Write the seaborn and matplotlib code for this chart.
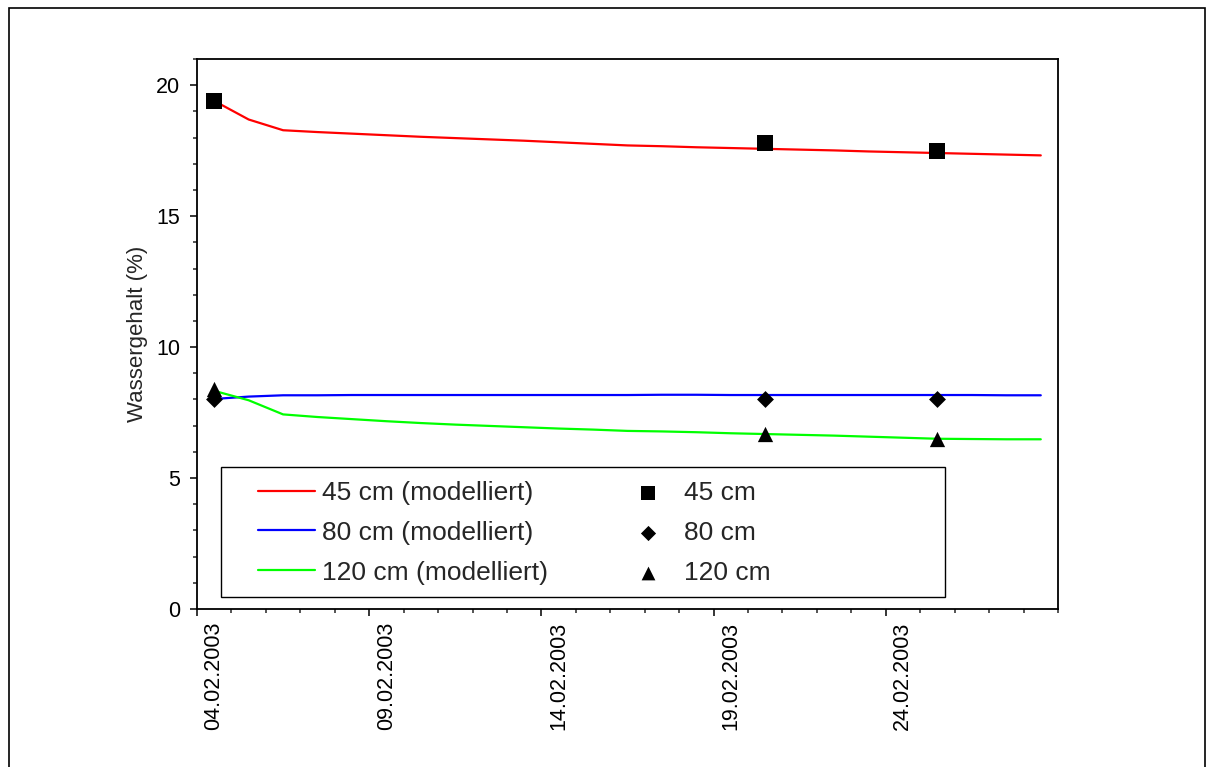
import matplotlib
matplotlib.use("Agg")
import matplotlib.pyplot as plt
import matplotlib.dates as mdates
import matplotlib.transforms as mtransforms
from matplotlib.patches import Rectangle
import seaborn as sns
import pandas as pd

# modelled water content, one value per day (04.02. 12:00 .. 28.02. 12:00)
model_dates = pd.date_range("2003-02-04 12:00", periods=25, freq="D")
model_45 = [19.40, 18.69, 18.28, 18.21, 18.15, 18.09, 18.03, 17.98, 17.93, 17.88,
            17.82, 17.76, 17.70, 17.67, 17.63, 17.60, 17.57, 17.54, 17.51, 17.47,
            17.44, 17.41, 17.38, 17.35, 17.32]
model_80 = [8.02, 8.11, 8.16, 8.16, 8.17, 8.17, 8.17, 8.17, 8.17, 8.17,
            8.17, 8.17, 8.17, 8.18, 8.18, 8.17, 8.17, 8.17, 8.17, 8.17,
            8.17, 8.17, 8.17, 8.16, 8.16]
model_120 = [8.33, 7.97, 7.43, 7.33, 7.25, 7.17, 7.10, 7.04, 6.99, 6.94,
             6.89, 6.85, 6.80, 6.78, 6.75, 6.71, 6.68, 6.65, 6.62, 6.58,
             6.54, 6.50, 6.49, 6.48, 6.48]

# measured values
meas_dates = pd.to_datetime(["2003-02-04 12:00", "2003-02-20 12:00", "2003-02-25 12:00"])
meas_45 = [19.4, 17.8, 17.5]
meas_80 = [8.0, 8.0, 8.0]
meas_120 = [8.4, 6.7, 6.5]

sns.set_style("ticks")
plt.rcParams["font.family"] = ["Liberation Sans", "DejaVu Sans"]

fig = plt.figure(figsize=(12.14, 7.67), dpi=100)
ax = fig.add_axes([197 / 1214, 158 / 767, 861 / 1214, 550 / 767])

sns.lineplot(x=model_dates, y=model_45, color="#ff0000", lw=1.6, ax=ax, label="45 cm (modelliert)")
sns.lineplot(x=model_dates, y=model_80, color="#0000ff", lw=1.6, ax=ax, label="80 cm (modelliert)")
sns.lineplot(x=model_dates, y=model_120, color="#00ff00", lw=1.6, ax=ax, label="120 cm (modelliert)")
sns.scatterplot(x=meas_dates, y=meas_45, marker="s", s=11 ** 2, color="black", linewidth=0, ax=ax, label="45 cm", zorder=4)
sns.scatterplot(x=meas_dates, y=meas_80, marker="D", s=8.6 ** 2, color="black", linewidth=0, ax=ax, label="80 cm", zorder=4)
sns.scatterplot(x=meas_dates, y=meas_120, marker="^", s=11 ** 2, color="black", linewidth=0, ax=ax, label="120 cm", zorder=4)

ax.set_xlim(pd.Timestamp("2003-02-04"), pd.Timestamp("2003-03-01"))
ax.set_ylim(0, 21)
ax.set_yticks([0, 5, 10, 15, 20])
ax.yaxis.set_minor_locator(matplotlib.ticker.MultipleLocator(1))
ax.xaxis.set_major_locator(mdates.DayLocator(bymonthday=[4, 9, 14, 19, 24]))
ax.xaxis.set_minor_locator(mdates.DayLocator())
ax.xaxis.set_major_formatter(mdates.DateFormatter("%d.%m.%Y"))

for sp in ax.spines.values():
    sp.set_linewidth(1.3)
    sp.set_color("black")
ax.tick_params(which="major", direction="out", length=5, width=1.1, labelsize=15.5, colors="black")
ax.tick_params(which="minor", direction="out", length=3, width=1.1)
ax.tick_params(axis="y", pad=7)
ax.tick_params(axis="x", pad=4)

offset = mtransforms.ScaledTranslation(0.17, 0, fig.dpi_scale_trans)
for lab in ax.get_xticklabels():
    lab.set_rotation(90)
    lab.set_ha("center")
    lab.set_va("top")
    lab.set_transform(lab.get_transform() + offset)

ax.set_xlabel("")
ax.set_ylabel("Wassergehalt (%)", fontsize=16, labelpad=6)

# legend box
ax.add_patch(Rectangle((0.0279, 0.0218), 0.8409, 0.2364, transform=ax.transAxes,
                       facecolor="white", edgecolor="black", lw=1.0, zorder=3))
handles, labels = ax.get_legend_handles_labels()
leg = ax.legend(handles, labels, ncol=2, loc="upper left", bbox_to_anchor=(0.0708, 0.233),
                frameon=False, fontsize=19, handlelength=2.16, handletextpad=0.28,
                labelspacing=0.6, columnspacing=2.7, borderpad=0, borderaxespad=0,
                markerscale=0.9)
leg.set_zorder(5)

# outer frame of the figure
fig.patches.append(Rectangle((9 / 1214, -0.05), 1196 / 1214, 1.05 - 8 / 767,
                             transform=fig.transFigure, fill=False, edgecolor="black", lw=1.2))

fig.savefig("out.png", dpi=100)
